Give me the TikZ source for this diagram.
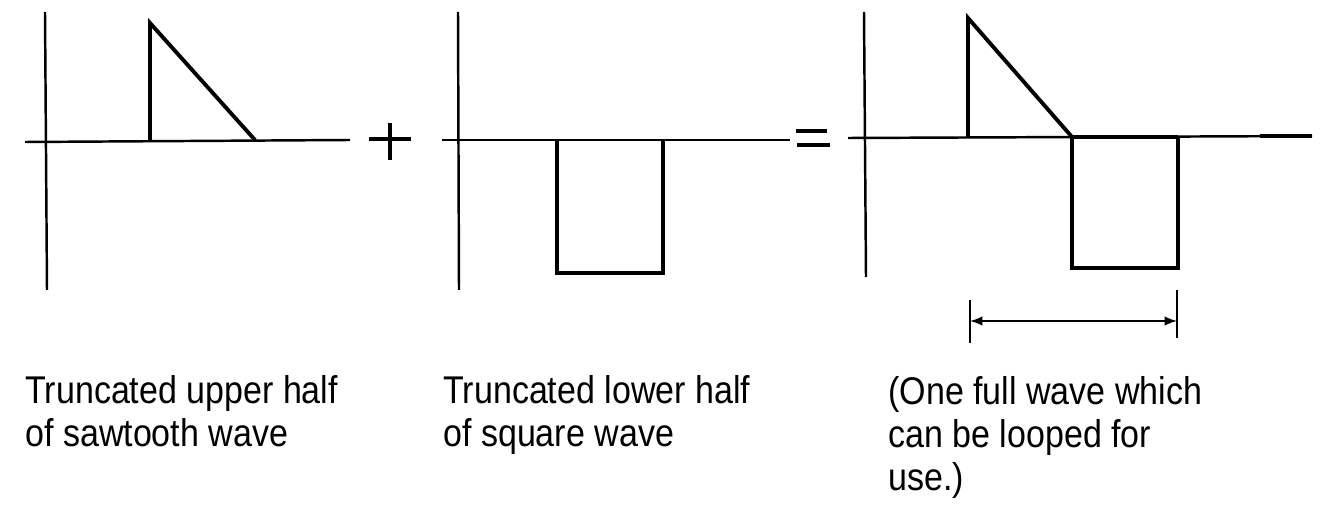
\documentclass[tikz,border=0pt]{standalone}
\usepackage{fontspec}
\setmainfont{Liberation Sans}[FakeStretch=0.88]
\usetikzlibrary{arrows}

\begin{document}
\begin{tikzpicture}[
    x=0.02cm, y=-0.02cm,
    axis/.style={line width=1.4pt},
    wave/.style={line width=2.2pt},
    sign/.style={line width=2.4pt},
    caption/.style={anchor=base west, align=left, inner sep=0pt, font=\fontsize{22}{24.5}\selectfont},
    >=latex]
    \useasboundingbox (0,0) rectangle (1329,506);
    % sawtooth half
    \draw[axis] (45,12) -- (47,290);
    \draw[axis] (25,142) -- (350,140);
    \draw[wave] (150,141) -- (150,23) -- (255,140);
    % plus
    \draw[sign] (369,139) -- (411,139) (390,123) -- (390,160);
    % square half
    \draw[axis] (458,12) -- (459,290);
    \draw[axis] (442,140) -- (790,140);
    \draw[wave] (557,140) -- (557,273) -- (663,273) -- (663,140);
    % equals
    \draw[sign] (796,131) -- (827,131) (797,145) -- (830,145);
    % sum
    \draw[axis] (864,12) -- (866,277);
    \draw[axis] (848,138) -- (1312,136);
    \draw[wave] (968,138) -- (968,18) -- (1072,137) -- (1072,268) -- (1178,268) -- (1178,137);
    \draw[wave] (1072,137) -- (1178,137) (1260,136) -- (1312,136);
    % one period
    \coordinate (pa) at (970,321);
    \coordinate (pb) at (1177,321);
    \draw[axis] (970,300) -- (970,343) (1177,290) -- (1177,338);
    \draw[axis, <->] (pa) -- (pb);
    % captions (anchored at last line)
    \node[caption] (saw) at (25,447) {Truncated upper half\\of sawtooth wave};
    \node[caption] (sq) at (443,447) {Truncated lower half\\of square wave};
    \node[caption] (full) at (888,491) {(One full wave which\\can be looped for\\use.)};
\end{tikzpicture}
\end{document}
